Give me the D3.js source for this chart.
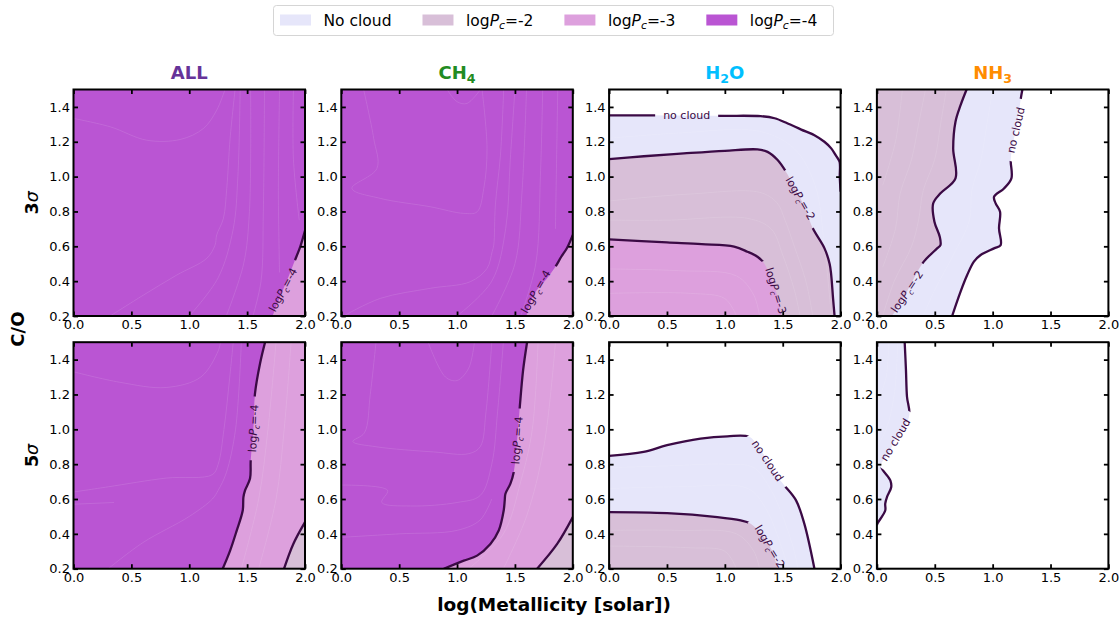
<!DOCTYPE html>
<html>
<head>
<meta charset="utf-8">
<script src="https://cdn.jsdelivr.net/npm/d3@7"></script>
<style>
  body { margin: 0; background: #fff; }
  svg { display: block; font-family: "DejaVu Sans", sans-serif; }
</style>
</head>
<body>
<svg id="chart" width="1120" height="619"></svg>
<script>
// ---- categories, axes, ticks ----
const species = ["ALL", "CH4", "H2O", "NH3"];
const significance = ["3", "5"];
const cloudLevels = ["No cloud", "-2", "-3", "-4"];
const metallicityRange = [0, 2];
const coRange = [0.2, 1.5];
const xTicks = [0, 0.5, 1.0, 1.5, 2.0];
const yTicks = [0.2, 0.4, 0.6, 0.8, 1.0, 1.2, 1.4];

// ---- cloud-top boundaries [log Z, C/O] ----
// ALL, 3 sigma
const all3_m4 = [[2.0,0.69],[1.96,0.6],[1.914,0.521],[1.86,0.43],[1.81,0.35],[1.76,0.27],[1.72,0.2]];
// CH4, 3 sigma
const ch43_m4 = [[2.0,0.665],[1.95,0.59],[1.9,0.54],[1.85,0.483],[1.77,0.41],[1.68,0.34],[1.63,0.27],[1.6,0.2]];
// H2O, 3 sigma
const h2o3_nc = [[0,1.351],[0.3,1.352],[0.67,1.35],[1.0,1.349],[1.31,1.347],[1.43,1.335],[1.543,1.305],[1.66,1.27],[1.774,1.238],[1.86,1.2],[1.919,1.162],[1.96,1.12],[1.991,1.085],[1.993,1.0],[2.0,0.913]];
const h2o3_m2 = [[0,1.1],[0.3,1.117],[0.645,1.133],[1.0,1.148],[1.282,1.156],[1.369,1.142],[1.456,1.095],[1.528,1.028],[1.6,0.94],[1.653,0.875],[1.71,0.79],[1.76,0.703],[1.861,0.588],[1.905,0.5],[1.919,0.435],[1.935,0.3],[1.948,0.2]];
const h2o3_m3 = [[0,0.64],[0.5,0.622],[0.8,0.612],[1.08,0.598],[1.195,0.569],[1.282,0.54],[1.34,0.502],[1.39,0.43],[1.441,0.345],[1.47,0.27],[1.49,0.2]];
// NH3, 3 sigma
const nh33_nc = [[1.257,1.5],[1.243,1.448],[1.225,1.36],[1.2,1.267],[1.17,1.17],[1.156,1.095],[1.162,0.99],[1.098,0.932],[1.012,0.884],[1.026,0.846],[1.064,0.798],[1.055,0.703],[1.069,0.607],[1.012,0.588],[0.896,0.55],[0.838,0.512],[0.78,0.435],[0.723,0.34],[0.65,0.2]];
const nh33_m2 = [[0.775,1.5],[0.723,1.41],[0.679,1.315],[0.659,1.162],[0.679,0.99],[0.549,0.904],[0.486,0.846],[0.497,0.741],[0.543,0.655],[0.549,0.607],[0.52,0.588],[0.405,0.512],[0.33,0.43],[0.26,0.34],[0.19,0.26],[0.13,0.2]];
// ALL, 5 sigma
const all5_m4 = [[1.655,1.5],[1.612,1.379],[1.568,1.206],[1.554,1.005],[1.531,0.822],[1.525,0.717],[1.482,0.649],[1.468,0.611],[1.462,0.534],[1.41,0.419],[1.353,0.304],[1.289,0.2]];
const all5_m2 = [[2.0,0.467],[1.899,0.342],[1.819,0.2]];
// CH4, 5 sigma
const ch45_m4 = [[1.605,1.5],[1.571,1.341],[1.542,1.129],[1.519,0.937],[1.49,0.755],[1.461,0.688],[1.418,0.63],[1.412,0.592],[1.403,0.534],[1.36,0.419],[1.288,0.342],[1.173,0.275],[1.058,0.246],[0.885,0.2]];
const ch45_m2 = [[2.0,0.496],[1.865,0.342],[1.692,0.2]];
// H2O, 5 sigma
const h2o5_nc = [[0,0.847],[0.298,0.87],[0.501,0.909],[0.79,0.947],[1.022,0.96],[1.21,0.957],[1.29,0.9],[1.37,0.82],[1.44,0.74],[1.514,0.678],[1.615,0.592],[1.687,0.457],[1.774,0.2]];
const h2o5_m2 = [[0,0.525],[0.501,0.519],[0.935,0.496],[1.137,0.477],[1.216,0.461],[1.3,0.41],[1.389,0.327],[1.43,0.26],[1.456,0.2]];
// NH3, 5 sigma
const nh35_nc = [[0.24,1.5],[0.251,1.341],[0.26,1.187],[0.28,1.082],[0.22,0.99],[0.16,0.94],[0.1,0.86],[0.035,0.793],[0.116,0.707],[0.124,0.669],[0.087,0.611],[0.072,0.573],[0.072,0.534],[0.006,0.461],[0,0.45]];

// ---- finer pressure iso-lines inside the filled bands ----
const all3_fine = [
  [[0,1.334],[0.317,1.286],[0.633,1.209],[0.921,1.213],[1.122,1.276],[1.237,1.381],[1.309,1.5]],
  [[0.317,0.2],[0.604,0.32],[0.892,0.435],[1.151,0.531],[1.223,0.607],[1.237,0.665],[1.295,0.76],[1.324,0.932],[1.353,1.219],[1.396,1.5]],
  [[1.0,0.2],[1.25,0.42],[1.38,0.7],[1.42,1.0],[1.44,1.5]],
  [[1.32,0.2],[1.47,0.5],[1.52,0.8],[1.53,1.5]],
  [[1.55,0.2],[1.62,0.4],[1.64,0.8],[1.65,1.5]],
  [[1.78,0.45],[1.77,0.9],[1.78,1.5]],
  [[1.95,0.75],[1.9,1.1],[1.9,1.5]]
];
const ch43_fine = [
  [[0.193,1.5],[0.28,1.219],[0.308,1.047],[0.092,0.932],[0.337,0.875],[0.769,0.827],[1.058,0.789],[1.173,0.798],[1.231,0.932],[1.259,1.162],[1.216,1.5]],
  [[0.914,1.5],[1.0,1.43],[1.086,1.42],[1.202,1.5]],
  [[0.02,0.2],[0.337,0.301],[0.769,0.359],[1.115,0.397],[1.259,0.473],[1.303,0.569],[1.317,0.607],[1.331,0.837],[1.375,1.123],[1.403,1.5]],
  [[1.0,0.2],[1.3,0.4],[1.42,0.7],[1.46,1.1],[1.5,1.5]],
  [[1.3,0.2],[1.5,0.5],[1.56,0.9],[1.6,1.5]],
  [[1.55,0.2],[1.68,0.5],[1.72,1.0],[1.74,1.5]],
  [[1.85,0.7],[1.86,1.1],[1.87,1.5]]
];
const h2o3_fine = [
  [[0,1.22],[0.6,1.25],[1.3,1.26],[1.6,1.16],[1.78,0.95],[1.86,0.6],[1.92,0.2]],
  [[0,0.86],[0.3,0.88],[0.7,0.9],[1.3,0.91],[1.45,0.85],[1.52,0.75],[1.6,0.6],[1.7,0.4],[1.76,0.2]],
  [[0,0.75],[0.5,0.75],[1.2,0.76],[1.4,0.7],[1.5,0.55],[1.6,0.35],[1.65,0.2]],
  [[0,0.47],[0.6,0.46],[1.1,0.43],[1.25,0.32],[1.3,0.2]],
  [[0,0.33],[0.7,0.33],[1.0,0.3],[1.1,0.2]]
];
const nh33_fine = [
  [[0.6,1.5],[0.55,1.3],[0.5,1.1],[0.4,0.92],[0.36,0.75],[0.3,0.6],[0.15,0.4],[0.05,0.2]],
  [[0.42,1.5],[0.36,1.3],[0.3,1.1],[0.2,0.9],[0.16,0.7],[0.05,0.48]],
  [[0.22,1.5],[0.16,1.2],[0.05,0.95]],
  [[1.0,1.5],[0.95,1.3],[0.9,1.1],[0.82,0.92],[0.8,0.75],[0.66,0.55],[0.5,0.35],[0.4,0.2]]
];
const all5_fine = [
  [[0,1.33],[0.4,1.27],[0.8,1.24],[1.1,1.3],[1.25,1.45],[1.27,1.5]],
  [[0,0.64],[0.3,0.67],[0.8,0.72],[1.2,0.74],[1.25,0.8],[1.3,1.0],[1.35,1.3],[1.38,1.5]],
  [[0,0.57],[0.35,0.58]],
  [[0.3,0.2],[0.6,0.35],[1.0,0.5],[1.2,0.6],[1.25,0.65],[1.32,0.75],[1.4,1.0],[1.45,1.5]],
  [[1.45,0.2],[1.6,0.6],[1.68,1.0],[1.75,1.5]],
  [[1.6,0.2],[1.75,0.6],[1.82,1.0],[1.88,1.5]]
];
const ch45_fine = [
  [[0.3,1.5],[0.25,1.2],[0.2,0.98],[0.1,0.93],[0.3,0.9],[0.8,0.87],[1.1,0.86],[1.2,0.9],[1.25,1.1],[1.3,1.5]],
  [[0.75,1.5],[0.9,1.3],[1.0,1.28],[1.1,1.35],[1.15,1.5]],
  [[0,0.68],[0.4,0.65],[0.35,0.58],[0.6,0.56],[1.0,0.58],[1.2,0.62],[1.3,0.8],[1.35,1.1],[1.4,1.5]],
  [[0,0.38],[0.5,0.4],[1.0,0.42],[1.2,0.48],[1.3,0.6]],
  [[1.1,0.2],[1.4,0.4],[1.55,0.7],[1.65,1.0],[1.7,1.5]],
  [[1.4,0.2],[1.6,0.5],[1.75,0.9],[1.85,1.5]]
];
const h2o5_fine = [
  [[0,0.78],[0.5,0.79],[1.0,0.8],[1.25,0.78],[1.4,0.65],[1.5,0.5],[1.6,0.3],[1.63,0.2]],
  [[0,0.66],[0.6,0.67],[1.2,0.66],[1.35,0.55],[1.45,0.4],[1.55,0.2]],
  [[0,0.42],[0.6,0.42],[1.1,0.4],[1.25,0.3],[1.3,0.2]],
  [[0,0.33],[0.7,0.32],[1.0,0.3],[1.1,0.2]]
];
const nh35_fine = [
  [[0.18,1.5],[0.15,1.2],[0.08,1.0],[0,0.9]],
  [[0.1,1.5],[0.08,1.3],[0,1.15]]
];

// ---- panel composition (row = significance, col = species) ----
// base: level filling the whole panel (-1 = none); fills: bands drawn on top,
// closed through the listed domain corners; lines: labelled boundaries.
const panels = [
  { row: 0, col: 0, base: 3,
    fills: [{ level: 2, edge: all3_m4, close: [[2, 0.2]] }],
    lines: [{ level: 3, edge: all3_m4, at: [1.81, 0.35], angle: -62 }],
    fine: all3_fine },
  { row: 0, col: 1, base: 3,
    fills: [{ level: 2, edge: ch43_m4, close: [[2, 0.2]] }],
    lines: [{ level: 3, edge: ch43_m4, at: [1.68, 0.34], angle: -60 }],
    fine: ch43_fine },
  { row: 0, col: 2, base: -1,
    fills: [{ level: 0, edge: h2o3_nc, close: [[2, 0.2], [0, 0.2]] },
            { level: 1, edge: h2o3_m2, close: [[0, 0.2]] },
            { level: 2, edge: h2o3_m3, close: [[0, 0.2]] }],
    lines: [{ level: 0, edge: h2o3_nc, at: [0.67, 1.35], angle: 0 },
            { level: 1, edge: h2o3_m2, at: [1.653, 0.875], angle: 60 },
            { level: 2, edge: h2o3_m3, at: [1.441, 0.345], angle: 73 }],
    fine: h2o3_fine },
  { row: 0, col: 3, base: -1,
    fills: [{ level: 0, edge: nh33_nc, close: [[0, 0.2], [0, 1.5]] },
            { level: 1, edge: nh33_m2, close: [[0, 0.2], [0, 1.5]] }],
    lines: [{ level: 0, edge: nh33_nc, at: [1.2, 1.267], angle: -77 },
            { level: 1, edge: nh33_m2, at: [0.26, 0.34], angle: -56 }],
    fine: nh33_fine },
  { row: 1, col: 0, base: 3,
    fills: [{ level: 2, edge: all5_m4, close: [[2, 0.2], [2, 1.5]] },
            { level: 1, edge: all5_m2, close: [[2, 0.2]] }],
    lines: [{ level: 3, edge: all5_m4, at: [1.554, 1.005], angle: -87 },
            { level: 1, edge: all5_m2 }],
    fine: all5_fine },
  { row: 1, col: 1, base: 3,
    fills: [{ level: 2, edge: ch45_m4, close: [[2, 0.2], [2, 1.5]] },
            { level: 1, edge: ch45_m2, close: [[2, 0.2]] }],
    lines: [{ level: 3, edge: ch45_m4, at: [1.519, 0.937], angle: -86 },
            { level: 1, edge: ch45_m2 }],
    fine: ch45_fine },
  { row: 1, col: 2, base: -1,
    fills: [{ level: 0, edge: h2o5_nc, close: [[0, 0.2]] },
            { level: 1, edge: h2o5_m2, close: [[0, 0.2]] }],
    lines: [{ level: 0, edge: h2o5_nc, at: [1.37, 0.82], angle: 56 },
            { level: 1, edge: h2o5_m2, at: [1.389, 0.327], angle: 59 }],
    fine: h2o5_fine },
  { row: 1, col: 3, base: -1,
    fills: [{ level: 0, edge: nh35_nc, close: [[0, 1.5]] }],
    lines: [{ level: 0, edge: nh35_nc, at: [0.16, 0.94], angle: -59 }],
    fine: nh35_fine }
];

// ---- styles ----
const levelFill = ["#e6e6fa", "#d8bfd8", "#dda0dd", "#ba55d3"];
const speciesColor = ["#663399", "#228b22", "#00bfff", "#ff8c00"];
const lineColor = "#3b0a45";

// ---- layout ----
const svg = d3.select("#chart");
const pw = 231.5, ph = 226.5;
const colLeft = c => 73.5 + c * 267.8;
const rowTop = r => 89.5 + r * 252.7;

const x = d3.scaleLinear().domain(metallicityRange).range([0, pw]);
const y = d3.scaleLinear().domain(coRange).range([ph, 0]);
const curve = d3.curveCatmullRom.alpha(0.5);
const line = d3.line().x(d => x(d[0])).y(d => y(d[1])).curve(curve);
const bandPath = (edge, close) =>
  line(edge) + close.map(p => `L${x(p[0])},${y(p[1])}`).join("") + "Z";

// rich text helpers
function writeLogPc(sel, level, fs) {
  sel.append("tspan").text("log");
  sel.append("tspan").attr("font-style", "italic").text("P");
  sel.append("tspan").attr("font-style", "italic").attr("font-size", fs * 0.7)
    .attr("dy", fs * 0.22).text("c");
  sel.append("tspan").attr("dy", -fs * 0.22).text("=" + cloudLevels[level]);
}
function writeSpecies(sel, name, fs) {
  const parts = name.match(/[A-Z][a-z]?|\d+/g);
  let shifted = false;
  parts.forEach(p => {
    const isNum = /\d/.test(p);
    const t = sel.append("tspan").text(p);
    if (isNum) { t.attr("font-size", fs * 0.7).attr("dy", fs * 0.2); shifted = true; }
    else if (shifted) { t.attr("dy", -fs * 0.2); shifted = false; }
  });
}

const labelFs = 11;
panels.forEach((p, i) => {
  const g = svg.append("g").attr("transform", `translate(${colLeft(p.col)},${rowTop(p.row)})`);
  const defs = g.append("defs");
  defs.append("clipPath").attr("id", "clip" + i)
    .append("rect").attr("width", pw).attr("height", ph);
  const mask = defs.append("mask").attr("id", "mask" + i).attr("maskUnits", "userSpaceOnUse")
    .attr("x", -50).attr("y", -50).attr("width", pw + 100).attr("height", ph + 100);
  mask.append("rect").attr("x", -50).attr("y", -50).attr("width", pw + 100).attr("height", ph + 100)
    .attr("fill", "#fff");

  const body = g.append("g").attr("clip-path", `url(#clip${i})`);
  body.append("rect").attr("width", pw).attr("height", ph)
    .attr("fill", p.base >= 0 ? levelFill[p.base] : "#fff");
  p.fills.forEach(f => body.append("path").attr("d", bandPath(f.edge, f.close))
    .attr("fill", levelFill[f.level]));
  body.append("g").selectAll("path").data(p.fine).join("path")
    .attr("d", line).attr("fill", "none")
    .attr("stroke", "#fff").attr("stroke-opacity", 0.16).attr("stroke-width", 0.7);

  const lineLayer = body.append("g").attr("mask", `url(#mask${i})`);
  p.lines.forEach(l => lineLayer.append("path").attr("d", line(l.edge))
    .attr("fill", "none").attr("stroke", lineColor).attr("stroke-width", 2.3)
    .attr("stroke-linejoin", "round"));

  // inline contour labels, with a gap cut in the line beneath each
  p.lines.filter(l => l.at).forEach(l => {
    const tf = `translate(${x(l.at[0])},${y(l.at[1])}) rotate(${l.angle})`;
    const t = g.append("text").attr("transform", tf)
      .attr("text-anchor", "middle").attr("y", labelFs * 0.35)
      .attr("font-size", labelFs).attr("fill", lineColor);
    if (l.level === 0) t.text("no cloud"); else writeLogPc(t, l.level, labelFs);
    const bb = t.node().getBBox();
    mask.append("rect").attr("transform", tf)
      .attr("x", bb.x - 8).attr("y", -7).attr("width", bb.width + 16).attr("height", 14)
      .attr("fill", "#000");
  });

  // axes: inward ticks on all four sides, labels on left and bottom
  const styleAxis = a => {
    a.select(".domain").remove();
    a.selectAll(".tick line").attr("stroke", "#000").attr("stroke-width", 1.8);
    a.selectAll(".tick text").attr("fill", "#000").attr("font-size", 13)
      .attr("font-family", "DejaVu Sans, sans-serif");
  };
  const fmt = d3.format(".1f");
  g.append("g").attr("transform", `translate(0,${ph})`)
    .call(d3.axisBottom(x).tickValues(xTicks).tickSizeInner(-4.5).tickSizeOuter(0).tickPadding(4).tickFormat(fmt))
    .call(styleAxis);
  g.append("g")
    .call(d3.axisLeft(y).tickValues(yTicks).tickSizeInner(-4.5).tickSizeOuter(0).tickPadding(3.5).tickFormat(fmt))
    .call(styleAxis);
  g.append("g")
    .call(d3.axisTop(x).tickValues(xTicks).tickSizeInner(-4.5).tickSizeOuter(0).tickFormat(() => ""))
    .call(styleAxis);
  g.append("g").attr("transform", `translate(${pw},0)`)
    .call(d3.axisRight(y).tickValues(yTicks).tickSizeInner(-4.5).tickSizeOuter(0).tickFormat(() => ""))
    .call(styleAxis);

  g.append("rect").attr("width", pw).attr("height", ph)
    .attr("fill", "none").attr("stroke", "#000").attr("stroke-width", 2);

  if (p.row === 0) {
    const tt = g.append("text").attr("x", pw / 2).attr("y", -10.5)
      .attr("text-anchor", "middle").attr("font-weight", "bold").attr("font-size", 18)
      .attr("fill", speciesColor[p.col]);
    writeSpecies(tt, species[p.col], 18);
  }
});

// row labels (significance)
significance.forEach((s, r) => {
  const t = svg.append("text")
    .attr("transform", `translate(38,${rowTop(r) + ph / 2}) rotate(-90)`)
    .attr("text-anchor", "middle").attr("font-size", 17.5);
  t.append("tspan").attr("font-weight", "bold").text(s);
  t.append("tspan").attr("font-style", "italic").text("σ");
});

// shared axis titles
svg.append("text").attr("transform", `translate(24,${(rowTop(0) + rowTop(1) + ph) / 2}) rotate(-90)`)
  .attr("text-anchor", "middle").attr("font-weight", "bold").attr("font-size", 18).text("C/O");
svg.append("text").attr("x", 554).attr("y", 611).attr("text-anchor", "middle")
  .attr("font-weight", "bold").attr("font-size", 18.5).text("log(Metallicity [solar])");

// legend
const legendFs = 15.5;
const legend = svg.append("g");
legend.append("rect").attr("x", 273.5).attr("y", 5.5).attr("width", 560).attr("height", 30)
  .attr("rx", 3).attr("fill", "#fff").attr("stroke", "#d5d5d5").attr("stroke-width", 1);
let lx = 280;
cloudLevels.forEach((lv, k) => {
  legend.append("rect").attr("x", lx).attr("y", 14.5).attr("width", 31).attr("height", 11)
    .attr("fill", levelFill[k]);
  const t = legend.append("text").attr("x", lx + 31 + 12.5).attr("y", 25.5)
    .attr("font-size", legendFs).attr("fill", "#000");
  if (k === 0) t.text(lv); else writeLogPc(t, k, legendFs);
  lx += 31 + 12.5 + t.node().getComputedTextLength() + 31;
});
</script>
</body>
</html>
